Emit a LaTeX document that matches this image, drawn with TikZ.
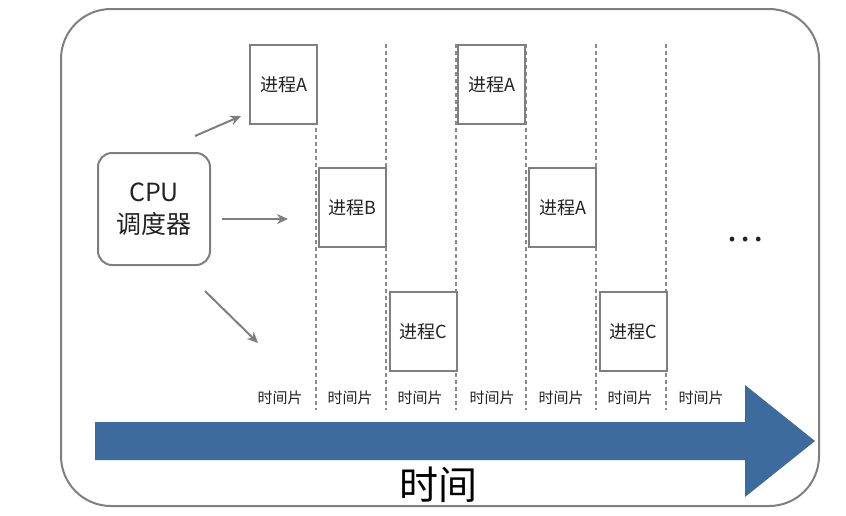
\documentclass[tikz,border=0pt]{standalone}
\usepackage{fontspec}
\setmainfont{Noto Sans CJK SC}
\usetikzlibrary{arrows.meta,positioning}
\definecolor{SchedGray}{HTML}{7F7F7F}
\definecolor{SchedDash}{HTML}{8A8A8A}
\definecolor{SchedBlue}{HTML}{3D6B9E}
\definecolor{SchedText}{HTML}{222222}
\tikzset{
  procbox/.style={draw=SchedGray,line width=2pt,fill=white,minimum width=67pt,
    minimum height=79pt,inner sep=0pt,text=SchedText,font=\fontsize{18}{20}\selectfont},
  slicelabel/.style={text=SchedText,font=\fontsize{15}{17}\selectfont,inner sep=0pt},
  slicerule/.style={SchedDash,line width=2pt,dash pattern=on 4pt off 3pt},
  sendarrow/.style={-{Stealth[length=11pt,width=10pt]},SchedGray,line width=2pt}
}
\begin{document}
\begin{tikzpicture}[x=1pt,y=-1pt]
    \useasboundingbox (0,0) rectangle (846,515);
    \node[draw=SchedGray,line width=2pt,rounded corners=50pt,minimum width=758pt,
      minimum height=497pt,anchor=north west] (frame) at (60,8) {};
    % time slice boundaries
    \foreach \x in {316,386,456,526,596,666}
      \draw[slicerule] (\x,44) -- (\x,410);
    % processes
    \node[procbox,anchor=north west] (pa1) at (249,44) {进程A};
    \node[procbox,anchor=north west] (pb1) at (318,167) {进程B};
    \node[procbox,anchor=north west] (pc1) at (389,291) {进程C};
    \node[procbox,anchor=north west] (pa2) at (457,44) {进程A};
    \node[procbox,anchor=north west] (pa3) at (528,167) {进程A};
    \node[procbox,anchor=north west] (pc2) at (599,291) {进程C};
    \node[font=\fontsize{35}{37}\selectfont,text=SchedText,inner sep=0pt] (more) at (745,240) {…};
    % scheduler
    \node[draw=SchedGray,line width=2pt,rounded corners=14pt,minimum width=112pt,
      minimum height=112pt,align=center,text=SchedText,
      font=\fontsize{25}{32}\selectfont] (cpu) at (154,209) {CPU\\调度器};
    \coordinate (s1) at (195,136);
    \coordinate (t1) at (241,116);
    \coordinate (s2) at (222,219);
    \coordinate (t2) at (288,219);
    \coordinate (s3) at (205,291);
    \coordinate (t3) at (258,343);
    \draw[sendarrow] (s1) -- (t1);
    \draw[sendarrow] (s2) -- (t2);
    \draw[sendarrow] (s3) -- (t3);
    % slices
    \foreach \x [count=\i] in {280,350,420,492,561,630,701}
      \node[slicelabel] (slice\i) at (\x,398) {时间片};
    % time axis
    \fill[SchedBlue] (95,422) -- (745,422) -- (745,385) -- (815,441) -- (745,497)
      -- (745,460) -- (95,460) -- cycle;
    \node[font=\fontsize{39}{42}\selectfont,text=black] (time) at (438,485) {时间};
  \end{tikzpicture}
\end{document}
